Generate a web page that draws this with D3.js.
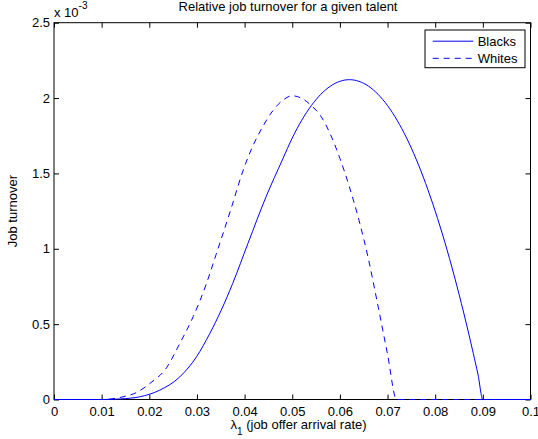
<!DOCTYPE html>
<html>
<head>
<meta charset="utf-8">
<script src="https://cdn.jsdelivr.net/npm/d3@7"></script>
<style>
  html, body { margin: 0; padding: 0; background: #ffffff; }
  svg { display: block; }
  text { font-family: "Liberation Sans", Arial, Helvetica, sans-serif; fill: #000; }
</style>
</head>
<body>
<svg id="chart" width="538" height="439"></svg>
<script>
// ---- data (values in units of 1e-3) ----
const titleText = "Relative job turnover for a given talent";
const yLabelText = "Job turnover";
const seriesNames = ["Blacks", "Whites"];

const lambdaBlacks = [0, 0.010, 0.014, 0.018, 0.0222, 0.0264, 0.0299, 0.0327, 0.0351, 0.0375, 0.0407, 0.0445, 0.048, 0.050, 0.052, 0.054, 0.056, 0.058, 0.060, 0.062, 0.064, 0.066, 0.068, 0.070, 0.072, 0.074, 0.076, 0.078, 0.080, 0.082, 0.084, 0.086, 0.088, 0.089, 0.090, 0.100];
const blacks = [0, 0, 0.004, 0.018, 0.062, 0.15, 0.283, 0.438, 0.593, 0.77, 1.035, 1.345, 1.595, 1.735, 1.853, 1.95, 2.025, 2.079, 2.111, 2.122, 2.111, 2.079, 2.025, 1.95, 1.853, 1.735, 1.595, 1.433, 1.25, 1.046, 0.82, 0.573, 0.305, 0.163, 0, 0];

const lambdaWhites = [0, 0.010, 0.0145, 0.0173, 0.0201, 0.0236, 0.0264, 0.0292, 0.032, 0.034, 0.0372, 0.0398, 0.0417, 0.0438, 0.0459, 0.048, 0.050, 0.052, 0.054, 0.056, 0.058, 0.060, 0.062, 0.064, 0.066, 0.068, 0.070, 0.0719, 0.100];
const whites = [0, 0, 0.018, 0.046, 0.106, 0.21, 0.372, 0.549, 0.77, 0.96, 1.27, 1.53, 1.68, 1.81, 1.915, 1.985, 2.015, 1.998, 1.95, 1.88, 1.76, 1.60, 1.41, 1.19, 0.93, 0.62, 0.30, 0, 0];

const xTicks = [0, 0.01, 0.02, 0.03, 0.04, 0.05, 0.06, 0.07, 0.08, 0.09, 0.1];
const xTickLabels = ["0", "0.01", "0.02", "0.03", "0.04", "0.05", "0.06", "0.07", "0.08", "0.09", "0.1"];
const yTicks = [0, 0.5, 1, 1.5, 2, 2.5];
const yTickLabels = ["0", "0.5", "1", "1.5", "2", "2.5"];

// ---- layout ----
const W = 538, H = 439;
const m = { left: 54, right: 7.5, top: 22.7, bottom: 39.5 };
const iw = W - m.left - m.right, ih = H - m.top - m.bottom;
const FS = 13;

const svg = d3.select("#chart");
const g = svg.append("g").attr("transform", `translate(${m.left},${m.top})`);

const x = d3.scaleLinear().domain([0, 0.1]).range([0, iw]);
const y = d3.scaleLinear().domain([0, 2.5]).range([ih, 0]);

// axis box
g.append("rect").attr("x", 0).attr("y", 0).attr("width", iw).attr("height", ih)
  .attr("fill", "none").attr("stroke", "#000").attr("stroke-width", 1);

const tickLen = 5;
const xAxisB = d3.axisBottom(x).tickValues(xTicks).tickSizeInner(-tickLen).tickSizeOuter(0)
  .tickFormat((d, i) => xTickLabels[i]).tickPadding(7.3);
const gxb = g.append("g").attr("transform", `translate(0,${ih})`).call(xAxisB);
gxb.select(".domain").remove();
gxb.selectAll("text").attr("font-size", FS).attr("font-family", null);
gxb.selectAll("line").attr("stroke", "#000");

const xAxisT = d3.axisTop(x).tickValues(xTicks).tickSizeInner(-tickLen).tickSizeOuter(0).tickFormat("");
const gxt = g.append("g").call(xAxisT);
gxt.select(".domain").remove();
gxt.selectAll("line").attr("stroke", "#000");

const yAxisL = d3.axisLeft(y).tickValues(yTicks).tickSizeInner(-tickLen).tickSizeOuter(0)
  .tickFormat((d, i) => yTickLabels[i]).tickPadding(4);
const gyl = g.append("g").call(yAxisL);
gyl.select(".domain").remove();
gyl.selectAll("text").attr("font-size", FS).attr("font-family", null);
gyl.selectAll("line").attr("stroke", "#000");

const yAxisR = d3.axisRight(y).tickValues(yTicks).tickSizeInner(-tickLen).tickSizeOuter(0).tickFormat("");
const gyr = g.append("g").attr("transform", `translate(${iw},0)`).call(yAxisR);
gyr.select(".domain").remove();
gyr.selectAll("line").attr("stroke", "#000");

// lines
const line = d3.line().x(d => x(d[0])).y(d => y(d[1])).curve(d3.curveMonotoneX);
const dBlacks = lambdaBlacks.map((l, i) => [l, blacks[i]]);
const dWhites = lambdaWhites.map((l, i) => [l, whites[i]]);

g.append("path").datum(dBlacks).attr("d", line)
  .attr("fill", "none").attr("stroke", "#0000ff").attr("stroke-width", 1);
g.append("path").datum(dWhites).attr("d", line)
  .attr("fill", "none").attr("stroke", "#0000ff").attr("stroke-width", 1)
  .attr("stroke-dasharray", "6,5");

// title
svg.append("text").attr("x", 288).attr("y", 11)
  .attr("text-anchor", "middle").attr("font-size", FS).text(titleText);

// exponent
const ex = svg.append("text").attr("x", 54).attr("y", 16.7).attr("font-size", FS);
ex.append("tspan").text("x 10");
ex.append("tspan").attr("dy", -8).attr("font-size", 10).text("-3");

// x label
const xl = svg.append("text").attr("x", 230.5).attr("y", 428.5)
  .attr("text-anchor", "start").attr("font-size", FS);
xl.append("tspan").text("λ");
xl.append("tspan").attr("dy", 6).attr("font-size", 10).text("1");
xl.append("tspan").attr("dy", -6).text(" (job offer arrival rate)");

// y label
svg.append("text").attr("transform", `translate(16.5,${m.top + ih / 2}) rotate(-90)`)
  .attr("text-anchor", "middle").attr("font-size", FS).text(yLabelText);

// legend
const lg = svg.append("g");
lg.append("rect").attr("x", 425).attr("y", 30).attr("width", 100).attr("height", 37.7)
  .attr("fill", "#fff").attr("stroke", "#000").attr("stroke-width", 1);
const legY = [41.2, 58.3];
const styles = [null, "6,5"];
seriesNames.forEach((nm, i) => {
  lg.append("line").attr("x1", 432.7).attr("x2", 473.3).attr("y1", legY[i]).attr("y2", legY[i])
    .attr("stroke", "#0000ff").attr("stroke-width", 1).attr("stroke-dasharray", styles[i]);
  lg.append("text").attr("x", 477.7).attr("y", legY[i] + 4.5).attr("font-size", FS).text(nm);
});
</script>
</body>
</html>
